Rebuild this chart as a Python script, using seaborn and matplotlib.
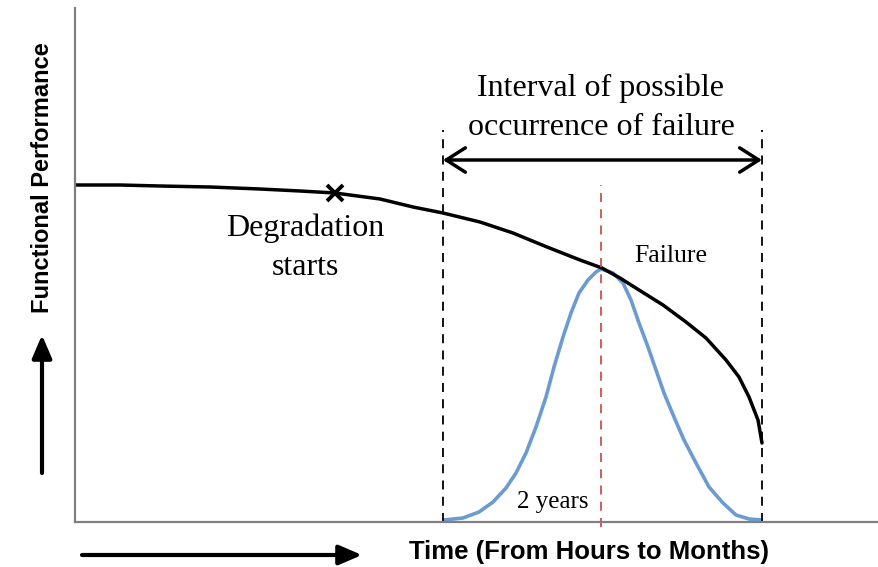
import numpy as np
import pandas as pd
import seaborn as sns
import matplotlib.pyplot as plt

sns.set_style("white")
plt.rcParams['font.family'] = ['Liberation Serif', 'DejaVu Serif']
plt.rcParams['text.color'] = 'black'

# performance curve
perf_x = [0, 45, 85, 135, 185, 225, 260, 305, 338, 368, 405, 438, 472, 505, 527,
          545, 564, 588, 611, 631, 651, 664, 674, 683, 687]
perf_y = [337, 337, 336, 335, 333, 331, 329, 323, 315, 309, 300, 289, 275, 262, 254,
          244, 232, 217, 200, 184, 162, 145, 125, 102, 79]

# failure distribution bump
fail_x = [369, 388, 404, 418, 431, 441, 451, 461, 471, 479, 488, 496, 504, 513, 521, 526,
          538, 548, 556, 564, 573, 581, 589, 599, 609, 621, 634, 648, 661, 674, 686]
fail_y = [2, 4, 10, 20, 34, 49, 69, 95, 125, 155, 185, 209, 229, 242, 250, 253,
          249, 239, 222, 199, 175, 152, 129, 105, 82, 59, 35, 19, 7, 3, 2]

interval_start = 368
interval_end = 687
failure_x = 526
degradation_pt = (260, 329)

perf_df = pd.DataFrame({"time": perf_x, "perf": perf_y})
fail_df = pd.DataFrame({"time": fail_x, "dens": fail_y})

fig = plt.figure(figsize=(8.79, 5.67), dpi=100)
ax = fig.add_axes([75 / 879, 45 / 567, 804 / 879, 514 / 567])

sns.lineplot(data=fail_df, x="time", y="dens", ax=ax, color="#6b9bd0", linewidth=2.6)
sns.lineplot(data=perf_df, x="time", y="perf", ax=ax, color="black", linewidth=2.5)

ax.plot([degradation_pt[0]], [degradation_pt[1]], marker="x", color="black",
        markersize=11, markeredgewidth=2.8)

# interval borders
for xv in [interval_start, interval_end]:
    ax.plot([xv, xv], [0, 392], color="black", linestyle=(0, (5, 4)), linewidth=1.3)
ax.plot([failure_x, failure_x], [-5, 337], color="#d0504c", linestyle=(0, (5, 4)),
        linewidth=1.3, clip_on=False)

ax.annotate("", xy=(interval_start, 362), xytext=(interval_end, 362),
            arrowprops=dict(arrowstyle="<->,head_length=0.55,head_width=0.35",
                            color="black", lw=2.5, mutation_scale=25,
                            shrinkA=0, shrinkB=0))

ax.text(526, 414, "Interval of possible\noccurrence of failure", ha="center", va="center",
        fontsize=23, linespacing=1.45, color="black")
ax.text(230, 274, "Degradation\nstarts", ha="center", va="center", fontsize=23,
        linespacing=1.45, color="black")
ax.text(596, 266, "Failure", ha="center", va="center", fontsize=18.5, color="black")
ax.text(478, 20, "2 years", ha="center", va="center", fontsize=18, color="black")

ax.set_xlim(0, 804)
ax.set_ylim(0, 514)
ax.set_xticks([])
ax.set_yticks([])
ax.set_xlabel("")
ax.set_ylabel("")
sns.despine(ax=ax)
for s in ["left", "bottom"]:
    ax.spines[s].set_color("#808080")
    ax.spines[s].set_linewidth(1.6)

# axis captions with arrows
fig.text(43 / 879, 1 - 178 / 567, "Functional Performance", rotation=90, ha="center",
         va="center", fontsize=17, fontweight="bold", color="black",
         family=["Liberation Sans", "DejaVu Sans"])
fig.text(589 / 879, 1 - 552 / 567, "Time (From Hours to Months)", ha="center",
         va="center", fontsize=18.5, fontweight="bold", color="black",
         family=["Liberation Sans", "DejaVu Sans"])

ax.annotate("", xy=(42, 567 - 335), xytext=(42, 567 - 473), xycoords="figure pixels",
            textcoords="figure pixels",
            arrowprops=dict(arrowstyle="-|>,head_length=0.7,head_width=0.3", color="black",
                            lw=3, mutation_scale=20, shrinkA=0, shrinkB=0))
ax.annotate("", xy=(362, 12), xytext=(82, 12), xycoords="figure pixels",
            textcoords="figure pixels",
            arrowprops=dict(arrowstyle="-|>,head_length=0.7,head_width=0.3", color="black",
                            lw=3, mutation_scale=20, shrinkA=0, shrinkB=0))

fig.savefig("out.png", dpi=100)
